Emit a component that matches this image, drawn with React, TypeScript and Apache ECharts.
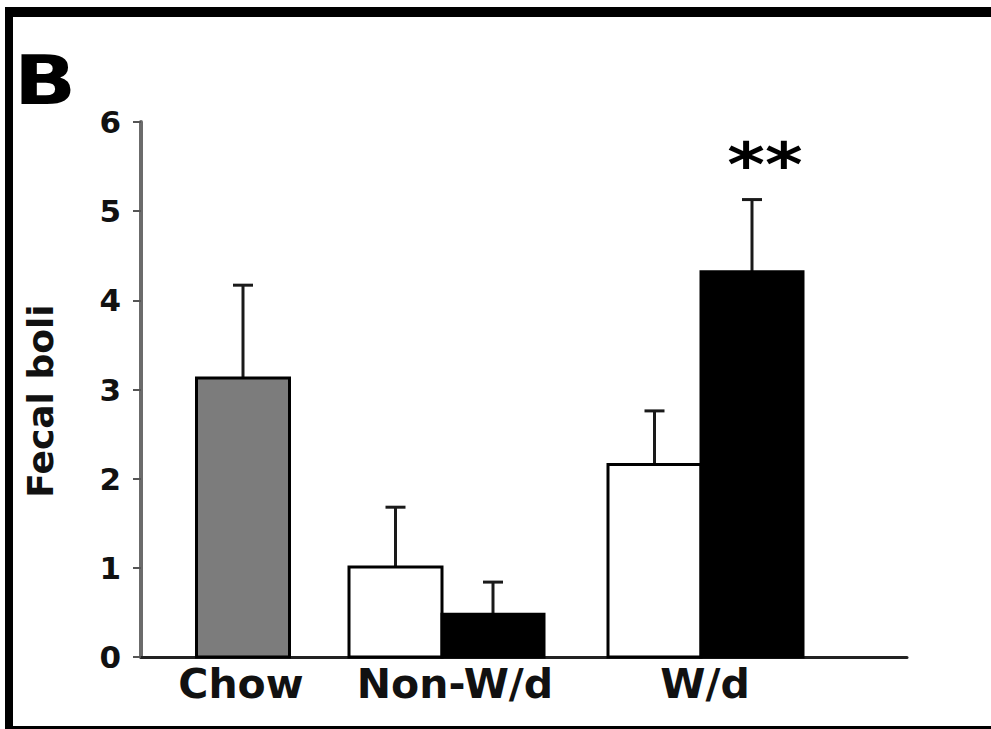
import React, { useEffect, useRef } from "react";
import * as echarts from "echarts";

// ---- data ----
const CATEGORIES = ["Chow", "Non-W/d", "W/d"];
const Y_TICKS = [0, 1, 2, 3, 4, 5, 6];
const Y_AXIS_TITLE = "Fecal boli";
const PANEL_LABEL = "B";

const GRAY_MEAN = [3.13, null, null];
const GRAY_ERR = [1.04, null, null];
const WHITE_MEAN = [null, 1.01, 2.16];
const WHITE_ERR = [null, 0.67, 0.6];
const BLACK_MEAN = [null, 0.48, 4.32];
const BLACK_ERR = [null, 0.36, 0.81];
const BLACK_SIG = ["", "", "**"];

// ---- layout (axis units along the x axis) ----
const X_SPAN = 766;
const GROUP_POS = [102, 301, 560];
const LABEL_POS = [100, 314, 564];
const GRAY_W = 93;
const WHITE_W = 93;
const BLACK_W = 102;
const FONT = "DejaVu Sans";

function rows(means: (number | null)[], errs: (number | null)[], sig?: string[]) {
  const out: any[] = [];
  means.forEach((m, i) => {
    if (m == null) return;
    out.push({ value: [i, m, errs[i] ?? 0], sig: sig ? sig[i] : "" });
  });
  return out;
}

function makeRender(kind: "gray" | "white" | "black", data: any[]) {
  return (params: any, api: any) => {
    const idx = api.value(0);
    const mean = api.value(1);
    const err = api.value(2);
    let left = 0;
    let right = 0;
    if (kind === "gray") {
      left = GROUP_POS[idx] - GRAY_W / 2;
      right = GROUP_POS[idx] + GRAY_W / 2;
    } else if (kind === "white") {
      right = GROUP_POS[idx];
      left = right - WHITE_W;
    } else {
      left = GROUP_POS[idx];
      right = left + BLACK_W;
    }
    const p0 = api.coord([left, 0]);
    const p1 = api.coord([right, mean]);
    const mid = (left + right) / 2;
    const top = api.coord([mid, mean]);
    const et = api.coord([mid, mean + err]);
    const fill = kind === "gray" ? "#7c7c7c" : kind === "white" ? "#ffffff" : "#000000";
    const children: any[] = [
      {
        type: "line",
        shape: { x1: top[0], y1: top[1], x2: et[0], y2: et[1] },
        style: { stroke: "#1a1a1a", lineWidth: 3 },
      },
      {
        type: "line",
        shape: { x1: et[0] - 10, y1: et[1], x2: et[0] + 10, y2: et[1] },
        style: { stroke: "#1a1a1a", lineWidth: 3 },
      },
      {
        type: "rect",
        shape: { x: p0[0], y: p1[1], width: p1[0] - p0[0], height: p0[1] - p1[1] },
        style: { fill, stroke: "#000", lineWidth: 3 },
      },
    ];
    const sig = data[params.dataIndex]?.sig;
    if (sig) {
      children.push({
        type: "text",
        x: et[0] + 13,
        y: et[1] - 34,
        scaleX: 1.2,
        style: {
          text: sig,
          fontFamily: FONT,
          fontWeight: "bold",
          fontSize: 60,
          fill: "#000",
          align: "center",
          verticalAlign: "middle",
        },
      });
    }
    return { type: "group", children };
  };
}

export default function App() {
  const ref = useRef<HTMLDivElement>(null);
  useEffect(() => {
    if (!ref.current) return;
    const chart = echarts.init(ref.current, null, { renderer: "svg" });
    const grayData = rows(GRAY_MEAN, GRAY_ERR);
    const whiteData = rows(WHITE_MEAN, WHITE_ERR);
    const blackData = rows(BLACK_MEAN, BLACK_ERR, BLACK_SIG);
    chart.setOption({
      animation: false,
      backgroundColor: "#ffffff",
      grid: { left: 141, right: 991 - 141 - X_SPAN, top: 122, bottom: 72, containLabel: false },
      xAxis: {
        type: "value",
        min: 0,
        max: X_SPAN,
        splitLine: { show: false },
        axisTick: { show: false },
        axisLine: { show: true, onZero: false, lineStyle: { color: "#222", width: 3 } },
        axisLabel: {
          show: true,
          customValues: LABEL_POS,
          formatter: (v: number) => {
            const i = LABEL_POS.indexOf(v);
            return i >= 0 ? CATEGORIES[i] : "";
          },
          fontFamily: FONT,
          fontWeight: "bold",
          fontSize: 41,
          color: "#111",
          margin: 6,
        },
      },
      yAxis: {
        type: "value",
        min: Y_TICKS[0],
        max: Y_TICKS[Y_TICKS.length - 1],
        interval: 1,
        splitLine: { show: false },
        axisLine: { show: true, lineStyle: { color: "#6b6b6b", width: 4 } },
        axisTick: { show: true, length: 8, lineStyle: { color: "#555", width: 2 } },
        axisLabel: {
          fontFamily: FONT,
          fontWeight: "bold",
          fontSize: 31,
          color: "#111",
          margin: 20,
        },
      },
      series: [
        { type: "custom", name: "Chow", renderItem: makeRender("gray", grayData), data: grayData, clip: false },
        { type: "custom", name: "Control", renderItem: makeRender("white", whiteData), data: whiteData, clip: false },
        { type: "custom", name: "Treated", renderItem: makeRender("black", blackData), data: blackData, clip: false },
      ],
      graphic: [
        { type: "rect", shape: { x: 5, y: 7, width: 986, height: 10 }, style: { fill: "#000" } },
        { type: "rect", shape: { x: 5, y: 7, width: 8, height: 722 }, style: { fill: "#000" } },
        { type: "rect", shape: { x: 5, y: 726, width: 986, height: 3 }, style: { fill: "#000" } },
        {
          type: "text",
          x: 14,
          y: 80,
          scaleX: 1.2,
          style: {
            text: PANEL_LABEL,
            fontFamily: FONT,
            fontWeight: "bold",
            fontSize: 68,
            fill: "#000",
            align: "left",
            verticalAlign: "middle",
          },
        },
        {
          type: "text",
          x: 40,
          y: 401,
          rotation: Math.PI / 2,
          style: {
            text: Y_AXIS_TITLE,
            fontFamily: FONT,
            fontWeight: "bold",
            fontSize: 36,
            fill: "#111",
            align: "center",
            verticalAlign: "middle",
          },
        },
      ],
    });
    return () => chart.dispose();
  }, []);
  return (
    <div
      ref={ref}
      style={{ position: "fixed", left: 0, top: 0, width: 991, height: 729, background: "#fff" }}
    />
  );
}
